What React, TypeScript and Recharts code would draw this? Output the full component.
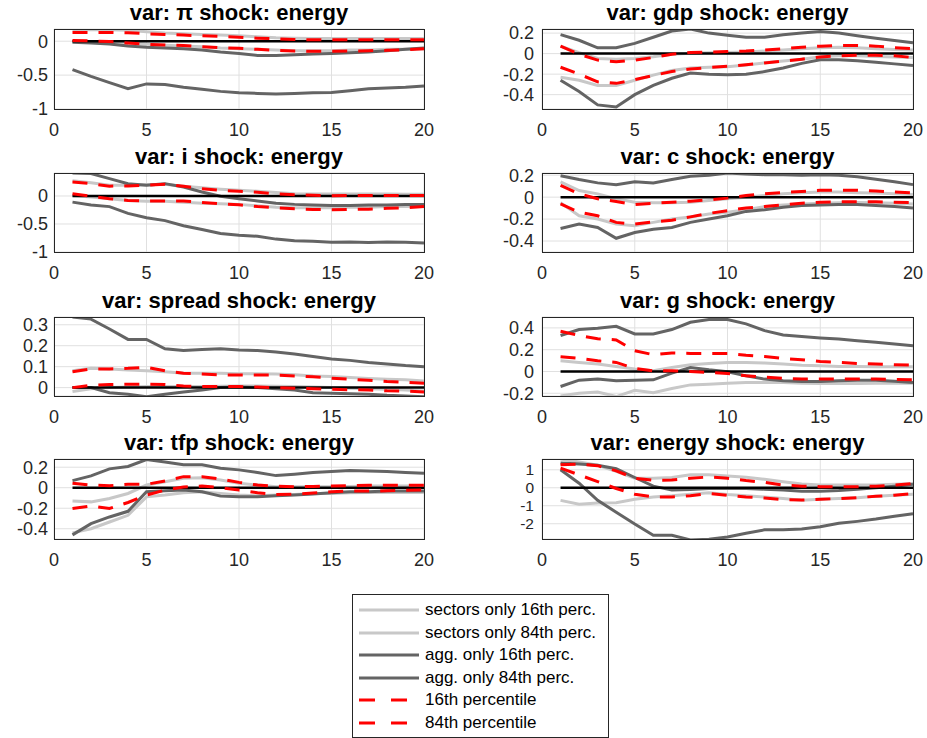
import React from "react";
import { LineChart, Line, XAxis, YAxis, CartesianGrid } from "recharts";

const horizons = [1, 2, 3, 4, 5, 6, 7, 8, 9, 10, 11, 12, 13, 14, 15, 16, 17, 18, 19, 20];
const xTicks = [0, 5, 10, 15, 20];

// var: pi
const piTicks = [-1, -0.5, 0];
const piDomain = [-1, 0.18];
const piSec16 = [0.0, -0.005, -0.015, -0.025, -0.045, -0.06, -0.07, -0.08, -0.1, -0.11, -0.12, -0.13, -0.14, -0.14, -0.14, -0.13, -0.13, -0.12, -0.12, -0.11];
const piSec84 = [0.17, 0.17, 0.17, 0.16, 0.14, 0.12, 0.11, 0.1, 0.09, 0.08, 0.065, 0.05, 0.045, 0.04, 0.04, 0.04, 0.04, 0.04, 0.04, 0.04];
const piAgg16 = [-0.42, -0.52, -0.61, -0.7, -0.63, -0.64, -0.68, -0.71, -0.74, -0.76, -0.77, -0.78, -0.77, -0.76, -0.755, -0.73, -0.7, -0.69, -0.68, -0.66];
const piAgg84 = [-0.015, -0.025, -0.04, -0.07, -0.09, -0.1, -0.11, -0.13, -0.16, -0.18, -0.21, -0.21, -0.2, -0.19, -0.18, -0.17, -0.16, -0.14, -0.12, -0.1];
const piP16 = [0.01, 0.005, -0.005, -0.025, -0.045, -0.055, -0.065, -0.08, -0.095, -0.105, -0.12, -0.135, -0.145, -0.15, -0.15, -0.145, -0.14, -0.135, -0.125, -0.11];
const piP84 = [0.13, 0.13, 0.13, 0.125, 0.11, 0.1, 0.09, 0.08, 0.07, 0.06, 0.045, 0.035, 0.025, 0.02, 0.02, 0.02, 0.02, 0.02, 0.02, 0.02];

// var: gdp
const gdpTicks = [-0.4, -0.2, 0, 0.2];
const gdpDomain = [-0.54, 0.24];
const gdpSec16 = [-0.23, -0.26, -0.31, -0.31, -0.26, -0.21, -0.165, -0.14, -0.133, -0.127, -0.11, -0.09, -0.073, -0.054, -0.03, -0.022, -0.022, -0.028, -0.032, -0.038];
const gdpSec84 = [0.073, 0.01, -0.048, -0.054, -0.048, -0.03, -0.006, 0.003, 0.008, 0.01, 0.016, 0.025, 0.035, 0.048, 0.057, 0.063, 0.057, 0.048, 0.041, 0.035];
const gdpAgg16 = [-0.26, -0.37, -0.5, -0.52, -0.4, -0.31, -0.24, -0.19, -0.2, -0.205, -0.2, -0.175, -0.14, -0.095, -0.06, -0.06, -0.07, -0.085, -0.1, -0.117];
const gdpAgg84 = [0.185, 0.13, 0.057, 0.057, 0.1, 0.16, 0.22, 0.24, 0.2, 0.18, 0.16, 0.16, 0.185, 0.2, 0.215, 0.2, 0.175, 0.15, 0.127, 0.105];
const gdpP16 = [-0.133, -0.2, -0.275, -0.29, -0.254, -0.213, -0.175, -0.15, -0.136, -0.124, -0.108, -0.092, -0.073, -0.054, -0.032, -0.022, -0.016, -0.016, -0.022, -0.038];
const gdpP84 = [0.073, -0.006, -0.063, -0.08, -0.063, -0.038, -0.006, 0.01, 0.016, 0.02, 0.025, 0.035, 0.048, 0.063, 0.073, 0.08, 0.08, 0.073, 0.057, 0.048];

// var: i
const iTicks = [-1, -0.5, 0];
const iDomain = [-1, 0.41];
const iSec16 = [0.01, -0.02, -0.05, -0.08, -0.096, -0.096, -0.11, -0.13, -0.14, -0.15, -0.175, -0.2, -0.21, -0.21, -0.21, -0.2, -0.2, -0.19, -0.19, -0.18];
const iSec84 = [0.27, 0.235, 0.19, 0.19, 0.2, 0.21, 0.175, 0.145, 0.12, 0.1, 0.084, 0.06, 0.04, 0.035, 0.035, 0.035, 0.035, 0.035, 0.03, 0.03];
const iAgg16 = [-0.11, -0.16, -0.19, -0.31, -0.39, -0.44, -0.53, -0.6, -0.67, -0.7, -0.72, -0.77, -0.8, -0.81, -0.825, -0.82, -0.83, -0.82, -0.825, -0.84];
const iAgg84 = [0.41, 0.4, 0.31, 0.22, 0.19, 0.22, 0.16, 0.07, -0.005, -0.05, -0.09, -0.13, -0.15, -0.16, -0.17, -0.17, -0.16, -0.16, -0.15, -0.15];
const iP16 = [0.04, -0.006, -0.05, -0.08, -0.09, -0.09, -0.09, -0.115, -0.14, -0.157, -0.19, -0.21, -0.23, -0.24, -0.247, -0.24, -0.235, -0.22, -0.21, -0.19];
const iP84 = [0.25, 0.22, 0.175, 0.18, 0.19, 0.21, 0.175, 0.13, 0.1, 0.084, 0.066, 0.04, 0.024, 0.012, 0.006, 0.01, 0.01, 0.01, 0.01, 0.01];

// var: c
const cTicks = [-0.4, -0.2, 0, 0.2];
const cDomain = [-0.5, 0.22];
const cSec16 = [-0.05, -0.17, -0.2, -0.246, -0.26, -0.23, -0.2, -0.18, -0.154, -0.138, -0.114, -0.086, -0.071, -0.062, -0.055, -0.052, -0.049, -0.052, -0.055, -0.062];
const cSec84 = [0.14, 0.06, 0.03, -0.015, -0.046, -0.052, -0.052, -0.046, -0.03, -0.015, 0, 0.015, 0.03, 0.04, 0.046, 0.046, 0.04, 0.037, 0.03, 0.025];
const cAgg16 = [-0.286, -0.246, -0.277, -0.375, -0.323, -0.292, -0.277, -0.23, -0.2, -0.17, -0.13, -0.114, -0.092, -0.077, -0.071, -0.068, -0.068, -0.077, -0.086, -0.1];
const cAgg84 = [0.195, 0.16, 0.13, 0.114, 0.14, 0.13, 0.16, 0.19, 0.2, 0.22, 0.21, 0.205, 0.205, 0.2, 0.205, 0.2, 0.185, 0.163, 0.14, 0.114];
const cP16 = [-0.062, -0.138, -0.17, -0.23, -0.246, -0.225, -0.21, -0.18, -0.148, -0.123, -0.098, -0.086, -0.071, -0.055, -0.046, -0.043, -0.043, -0.043, -0.046, -0.049];
const cP84 = [0.108, 0.03, -0.015, -0.04, -0.068, -0.055, -0.046, -0.037, -0.025, -0.009, 0.015, 0.03, 0.043, 0.052, 0.062, 0.062, 0.062, 0.055, 0.046, 0.04];

// var: spread
const spTicks = [0, 0.1, 0.2, 0.3];
const spDomain = [-0.04, 0.337];
const spSec16 = [-0.019, -0.005, 0, 0.003, 0.005, 0.005, 0.005, 0.005, 0.006, 0.008, 0.008, 0.006, 0.005, 0.003, 0, -0.003, -0.005, -0.008, -0.011, -0.016];
const spSec84 = [0.08, 0.092, 0.089, 0.084, 0.08, 0.076, 0.069, 0.068, 0.068, 0.066, 0.066, 0.065, 0.061, 0.056, 0.053, 0.048, 0.044, 0.04, 0.037, 0.032];
const spAgg16 = [0, 0, -0.024, -0.032, -0.044, -0.032, -0.021, -0.011, 0, 0.003, 0, -0.005, -0.011, -0.024, -0.027, -0.029, -0.032, -0.037, -0.04, -0.044];
const spAgg84 = [0.337, 0.327, 0.28, 0.23, 0.23, 0.185, 0.177, 0.182, 0.185, 0.18, 0.177, 0.17, 0.16, 0.148, 0.137, 0.13, 0.12, 0.113, 0.105, 0.1];
const spP16 = [0, 0.011, 0.015, 0.016, 0.016, 0.015, 0.008, 0.005, 0.005, 0.005, 0.003, 0, -0.003, -0.005, -0.008, -0.01, -0.011, -0.015, -0.016, -0.021];
const spP84 = [0.076, 0.089, 0.089, 0.092, 0.097, 0.08, 0.069, 0.065, 0.061, 0.06, 0.06, 0.06, 0.056, 0.052, 0.045, 0.04, 0.035, 0.029, 0.026, 0.021];

// var: g
const gTicks = [-0.2, 0, 0.2, 0.4];
const gDomain = [-0.225, 0.5];
const gSec16 = [-0.225, -0.2, -0.188, -0.23, -0.172, -0.194, -0.157, -0.123, -0.117, -0.108, -0.1, -0.1, -0.1, -0.108, -0.111, -0.111, -0.11, -0.108, -0.108, -0.108];
const gSec84 = [0.098, 0.083, 0.068, 0.046, 0.022, 0.006, 0.037, 0.062, 0.074, 0.083, 0.083, 0.077, 0.068, 0.058, 0.052, 0.046, 0.046, 0.043, 0.043, 0.043];
const gAgg16 = [-0.138, -0.08, -0.07, -0.086, -0.08, -0.077, -0.015, 0.037, 0.015, -0.003, -0.04, -0.07, -0.086, -0.092, -0.092, -0.086, -0.08, -0.08, -0.089, -0.1];
const gAgg84 = [0.33, 0.385, 0.397, 0.415, 0.345, 0.345, 0.385, 0.452, 0.477, 0.477, 0.437, 0.375, 0.335, 0.32, 0.308, 0.298, 0.283, 0.268, 0.252, 0.237];
const gP16 = [0.135, 0.12, 0.098, 0.083, 0.028, 0.006, 0.006, 0, -0.009, -0.018, -0.04, -0.052, -0.062, -0.07, -0.07, -0.07, -0.07, -0.07, -0.074, -0.077];
const gP84 = [0.37, 0.33, 0.3, 0.29, 0.19, 0.154, 0.17, 0.166, 0.166, 0.166, 0.15, 0.138, 0.12, 0.108, 0.092, 0.083, 0.074, 0.068, 0.062, 0.058];

// var: tfp
const tfpTicks = [-0.4, -0.2, 0, 0.2];
const tfpDomain = [-0.5, 0.28];
const tfpSec16 = [-0.44, -0.4, -0.334, -0.269, -0.089, -0.072, -0.049, -0.04, -0.056, -0.072, -0.079, -0.072, -0.066, -0.056, -0.056, -0.049, -0.046, -0.046, -0.046, -0.046];
const tfpSec84 = [-0.13, -0.138, -0.105, -0.056, 0.026, 0.059, 0.092, 0.098, 0.075, 0.043, 0.026, 0.01, 0.01, 0.01, 0.01, 0.013, 0.016, 0.016, 0.016, 0.016];
const tfpAgg16 = [-0.46, -0.35, -0.285, -0.23, -0.04, -0.03, -0.023, -0.04, -0.082, -0.089, -0.089, -0.079, -0.072, -0.062, -0.049, -0.04, -0.04, -0.033, -0.033, -0.033];
const tfpAgg84 = [0.069, 0.115, 0.184, 0.207, 0.275, 0.25, 0.223, 0.223, 0.19, 0.174, 0.148, 0.118, 0.131, 0.148, 0.157, 0.168, 0.164, 0.157, 0.148, 0.141];
const tfpP16 = [-0.203, -0.177, -0.203, -0.144, -0.072, -0.023, 0.007, 0.016, 0, -0.023, -0.049, -0.066, -0.062, -0.052, -0.04, -0.033, -0.033, -0.03, -0.026, -0.023];
const tfpP84 = [0.043, 0.026, 0.02, 0.033, 0.033, 0.066, 0.108, 0.108, 0.085, 0.052, 0.026, 0.016, 0.01, 0.013, 0.016, 0.02, 0.023, 0.023, 0.023, 0.023];

// var: energy
const enTicks = [-2, -1, 0, 1];
const enDomain = [-2.85, 1.6];
const enSec16 = [-0.7, -0.92, -0.85, -0.83, -0.64, -0.51, -0.45, -0.36, -0.28, -0.38, -0.45, -0.51, -0.6, -0.7, -0.64, -0.6, -0.55, -0.47, -0.42, -0.36];
const enSec84 = [1.6, 1.43, 1.25, 0.91, 0.53, 0.53, 0.57, 0.72, 0.72, 0.66, 0.58, 0.47, 0.34, 0.21, 0.15, 0.15, 0.15, 0.15, 0.19, 0.23];
const enAgg16 = [1.0, 0.25, -0.7, -1.36, -2.02, -2.64, -2.64, -2.9, -2.87, -2.74, -2.53, -2.34, -2.34, -2.3, -2.17, -1.98, -1.87, -1.74, -1.58, -1.45];
const enAgg84 = [1.38, 1.32, 1.25, 1.06, 0.57, 0.09, -0.13, -0.09, -0.04, -0.04, -0.04, -0.08, -0.13, -0.19, -0.19, -0.15, -0.08, 0, 0.09, 0.19];
const enP16 = [1.09, 0.72, 0.34, -0.04, -0.36, -0.51, -0.51, -0.45, -0.32, -0.42, -0.51, -0.57, -0.66, -0.68, -0.64, -0.6, -0.55, -0.47, -0.42, -0.32];
const enP84 = [1.28, 1.32, 1.23, 0.94, 0.53, 0.42, 0.43, 0.53, 0.6, 0.53, 0.4, 0.3, 0.15, 0.09, 0.06, 0.06, 0.06, 0.09, 0.15, 0.23];

const legendLabels = [
  "sectors only 16th perc.",
  "sectors only 84th perc.",
  "agg. only 16th perc.",
  "agg. only 84th perc.",
  "16th percentile",
  "84th percentile",
];

const LIGHT = "#c8c8c8";
const DARK = "#646464";
const RED = "#ff0000";
const AXIS = "#262626";
const GRID = "#e0e0e0";
const FONT = "'Liberation Sans', Arial, Helvetica, sans-serif";
const DASH = "15 11";

interface PanelSpec {
  title: string;
  yTicks: number[];
  yDomain: number[];
  sec16: number[];
  sec84: number[];
  agg16: number[];
  agg84: number[];
  p16: number[];
  p84: number[];
  tickFont?: number;
}

const panels: PanelSpec[] = [
  { title: "var: π shock: energy", yTicks: piTicks, yDomain: piDomain, sec16: piSec16, sec84: piSec84, agg16: piAgg16, agg84: piAgg84, p16: piP16, p84: piP84 },
  { title: "var: gdp shock: energy", yTicks: gdpTicks, yDomain: gdpDomain, sec16: gdpSec16, sec84: gdpSec84, agg16: gdpAgg16, agg84: gdpAgg84, p16: gdpP16, p84: gdpP84 },
  { title: "var: i shock: energy", yTicks: iTicks, yDomain: iDomain, sec16: iSec16, sec84: iSec84, agg16: iAgg16, agg84: iAgg84, p16: iP16, p84: iP84 },
  { title: "var: c shock: energy", yTicks: cTicks, yDomain: cDomain, sec16: cSec16, sec84: cSec84, agg16: cAgg16, agg84: cAgg84, p16: cP16, p84: cP84 },
  { title: "var: spread shock: energy", yTicks: spTicks, yDomain: spDomain, sec16: spSec16, sec84: spSec84, agg16: spAgg16, agg84: spAgg84, p16: spP16, p84: spP84 },
  { title: "var: g shock: energy", yTicks: gTicks, yDomain: gDomain, sec16: gSec16, sec84: gSec84, agg16: gAgg16, agg84: gAgg84, p16: gP16, p84: gP84 },
  { title: "var: tfp shock: energy", yTicks: tfpTicks, yDomain: tfpDomain, sec16: tfpSec16, sec84: tfpSec84, agg16: tfpAgg16, agg84: tfpAgg84, p16: tfpP16, p84: tfpP84 },
  // labels sit only 18px apart here, so a touch smaller
  { title: "var: energy shock: energy", yTicks: enTicks, yDomain: enDomain, sec16: enSec16, sec84: enSec84, agg16: enAgg16, agg84: enAgg84, p16: enP16, p84: enP84, tickFont: 15.5 },
];

// plot-area geometry of the 4x2 grid
const COL_LEFT = [54, 542];
const COL_W = [370, 371];
const COL_GAP = [6, 8];
const ROW_TOP = [29, 173, 317, 459];
const ROW_H = [80, 79, 79, 80];

const PAD_L = 70;
const PAD_R = 12;
const PAD_T = 14;
const PAD_B = 30;

function Panel({ spec, left, top, width, height, labelGap }: { spec: PanelSpec; left: number; top: number; width: number; height: number; labelGap: number }) {
  const data = horizons.map((h, i) => ({
    h,
    zero: 0,
    sec16: spec.sec16[i],
    sec84: spec.sec84[i],
    agg16: spec.agg16[i],
    agg84: spec.agg84[i],
    p16: spec.p16[i],
    p84: spec.p84[i],
  }));
  const xTickStyle = { fontSize: 18, fill: AXIS, fontFamily: FONT };
  const yTickStyle = { fontSize: spec.tickFont ?? 18, fill: AXIS, fontFamily: FONT };

  return (
    <>
      <div
        style={{
          position: "absolute",
          left,
          top: top - 27,
          width,
          textAlign: "center",
          fontFamily: FONT,
          fontWeight: "bold",
          fontSize: 22,
          lineHeight: "22px",
          color: "#000",
          whiteSpace: "nowrap",
        }}
      >
        {spec.title}
      </div>
      <div style={{ position: "absolute", left: left - PAD_L, top: top - PAD_T }}>
        <LineChart
          width={PAD_L + width + PAD_R}
          height={PAD_T + height + PAD_B}
          data={data}
          margin={{ top: PAD_T, right: PAD_R, bottom: 0, left: 0 }}
        >
          <CartesianGrid stroke={GRID} strokeWidth={1} />
          <XAxis
            dataKey="h"
            type="number"
            domain={[0, 20]}
            ticks={xTicks}
            interval={0}
            height={PAD_B}
            axisLine={false}
            tickLine={false}
            tickSize={0}
            tickMargin={14}
            tick={xTickStyle}
          />
          <YAxis
            type="number"
            domain={spec.yDomain}
            ticks={spec.yTicks}
            interval={0}
            allowDataOverflow
            width={PAD_L}
            axisLine={false}
            tickLine={false}
            tickSize={0}
            tickMargin={labelGap}
            tick={yTickStyle}
          />
          <Line dataKey="sec16" stroke={LIGHT} strokeWidth={3} dot={false} isAnimationActive={false} />
          <Line dataKey="sec84" stroke={LIGHT} strokeWidth={3} dot={false} isAnimationActive={false} />
          <Line dataKey="agg16" stroke={DARK} strokeWidth={3} dot={false} isAnimationActive={false} />
          <Line dataKey="agg84" stroke={DARK} strokeWidth={3} dot={false} isAnimationActive={false} />
          <Line dataKey="zero" stroke="#000" strokeWidth={2.5} dot={false} isAnimationActive={false} />
          <Line dataKey="p16" stroke={RED} strokeWidth={3} strokeDasharray={DASH} dot={false} isAnimationActive={false} />
          <Line dataKey="p84" stroke={RED} strokeWidth={3} strokeDasharray={DASH} dot={false} isAnimationActive={false} />
        </LineChart>
      </div>
      {/* axes box */}
      <div
        style={{
          position: "absolute",
          left,
          top,
          width: width + 1,
          height: height + 1,
          boxSizing: "border-box",
          border: `1px solid ${AXIS}`,
          pointerEvents: "none",
        }}
      />
    </>
  );
}

const legendStyles = [
  { color: LIGHT, dash: undefined },
  { color: LIGHT, dash: undefined },
  { color: DARK, dash: undefined },
  { color: DARK, dash: undefined },
  { color: RED, dash: "16 16" },
  { color: RED, dash: "16 16" },
];

function LegendBox() {
  return (
    <div
      style={{
        position: "absolute",
        left: 352,
        top: 594,
        width: 255,
        height: 142,
        border: `1px solid ${AXIS}`,
        background: "#fff",
        fontFamily: FONT,
        fontSize: 17,
        color: "#000",
      }}
    >
      {legendLabels.map((label, i) => (
        <div key={label} style={{ position: "absolute", left: 0, top: 4 + i * 22.6, height: 22, display: "flex", alignItems: "center" }}>
          <svg width={72} height={22} style={{ display: "block" }}>
            <line x1={6} x2={66} y1={11} y2={11} stroke={legendStyles[i].color} strokeWidth={3} strokeDasharray={legendStyles[i].dash} />
          </svg>
          <span style={{ whiteSpace: "nowrap", lineHeight: "22px" }}>{label}</span>
        </div>
      ))}
    </div>
  );
}

export default function App() {
  return (
    <div style={{ position: "absolute", left: 0, top: 0, width: 927, height: 738, background: "#fff", overflow: "hidden" }}>
      {panels.map((spec, k) => {
        const col = k % 2;
        const row = Math.floor(k / 2);
        return (
          <Panel
            key={spec.title}
            spec={spec}
            left={COL_LEFT[col]}
            top={ROW_TOP[row]}
            width={COL_W[col]}
            height={ROW_H[row]}
            labelGap={COL_GAP[col]}
          />
        );
      })}
      <LegendBox />
    </div>
  );
}
